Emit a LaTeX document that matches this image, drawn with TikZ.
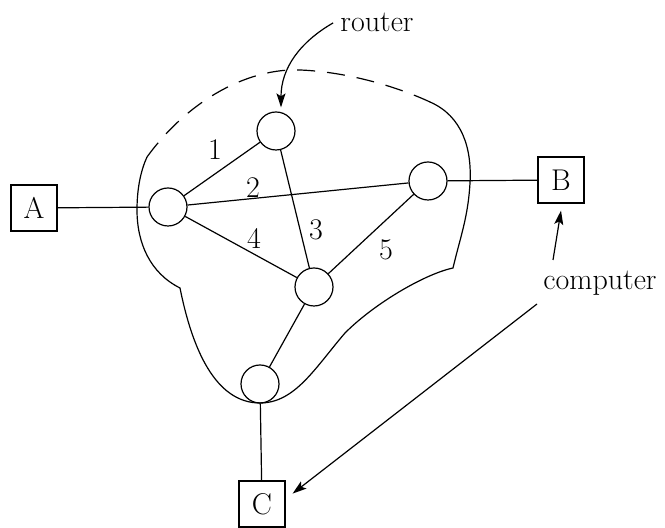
\documentclass[tikz,border=0pt]{standalone}
\usetikzlibrary{arrows.meta}

\tikzstyle{router}=[circle,draw,minimum size=19pt,inner sep=0pt]
\tikzstyle{host}=[rectangle,draw,minimum size=23pt,inner sep=0pt]

\begin{document}
\begin{tikzpicture}[x=0.5pt,y=0.5pt,line width=0.6pt,
every node/.style={font=\fontsize{15}{18}\selectfont},
tip/.style={-{Stealth[length=7pt,width=4.5pt,inset=1.5pt]}}]
 \useasboundingbox (0,0) rectangle (665,528);

 % routers
 \node[router] (R1) at (276,397) {};
 \node[router] (R2) at (168,321) {};
 \node[router] (R3) at (428,347) {};
 \node[router] (R4) at (314,241) {};
 \node[router] (R5) at (260,144) {};

 % computers
 \node[host] (A) at (34,320) {A};
 \node[host] (B) at (561,348) {B};
 \node[host] (C) at (262,24) {C};

 % links
 \draw (R2) -- (R1);
 \draw (R2) -- (R3);
 \draw (R1) -- (R4);
 \draw (R2) -- (R4);
 \draw (R3) -- (R4);
 \draw (R4) -- (R5);
 \draw (A) -- (R2);
 \draw (R3) -- (B);
 \draw (R5) -- (C);

 \node (l1) at (215,378) {1};
 \node (l2) at (253,340) {2};
 \node (l3) at (316,298) {3};
 \node (l4) at (254,290) {4};
 \node (l5) at (386,278) {5};

 % the network
 \draw (430,426) .. controls (462,412) and (472,380) .. (470,345)
       .. controls (468,310) and (460,290) .. (453,260)
       .. controls (425,254) and (375,225) .. (345,195)
       .. controls (315,160) and (295,125) .. (260,125)
       .. controls (215,125) and (192,180) .. (180,240)
       .. controls (150,255) and (137,285) .. (137,318)
       .. controls (137,340) and (141,358) .. (147,371);
 \draw[dash pattern=on 9pt off 6pt] (147,371) .. controls (190,430) and (250,460) .. (300,458)
       .. controls (350,456) and (400,440) .. (430,426);

 % labels
 \node[anchor=base] (router) at (377,496) {router};
 \node[anchor=base] (computer) at (600,238) {computer};
 \coordinate (cB) at (553,268);
 \coordinate (cC) at (537,224);
 \draw[tip] (router.west) to[out=210,in=90] ([xshift=2.5pt,yshift=2pt]R1.north);
 \draw[tip] (cB) -- ([yshift=-3.5pt]B.south);
 \draw[tip] (cC) -- ([xshift=3.5pt,yshift=17pt]C.south east);
\end{tikzpicture}
\end{document}
